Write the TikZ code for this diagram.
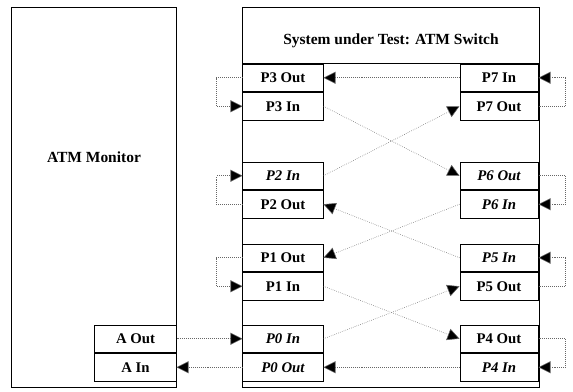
\documentclass[tikz,border=0pt]{standalone}
\usepackage{fontspec}
\setmainfont{Liberation Serif}
\usetikzlibrary{arrows.meta,positioning}

\begin{document}
\begin{tikzpicture}[x=0.025cm,y=-0.025cm,font=\bfseries\fontsize{10.5}{12}\selectfont]

\tikzset{portnode/.style={draw,line width=0.7pt,minimum width=2cm,minimum height=0.6875cm,inner sep=0pt},
rportnode/.style={portnode,minimum width=1.95cm},
blockbox/.style={draw,line width=0.7pt,inner sep=0pt},
titlefont/.style={font=\bfseries\fontsize{11}{13}\selectfont},
linkline/.style={densely dotted,draw=black!60,thin,-{Triangle[length=3mm,width=3mm,fill=black]}}}

\useasboundingbox (0,0) rectangle (573,391);

% Monitor and switch boxes
\node[blockbox,minimum width=4.1cm,minimum height=9.475cm] (monitor) at (94,197.5) {};
\node[titlefont] (monitorTitle) at (94,157) {ATM Monitor};
\node[blockbox,minimum width=7.4cm,minimum height=9.475cm] (switch) at (391,197.5) {};
\node[titlefont] (switchTitle) at (391,41) {System under Test: ATM Switch};

% Monitor ports
\node[portnode,minimum width=2.025cm] (aout) at (135.5,338.75) {A Out};
\node[portnode,minimum width=2.025cm,below=0pt of aout] (ain) {A In};

% Left switch ports
\node[portnode] (p3out) at (283,77.75) {P3 Out};
\node[portnode,below=0pt of p3out] (p3in) {P3 In};
\node[portnode] (p2in) at (283,175.75) {\itshape P2 In};
\node[portnode,below=0pt of p2in] (p2out) {P2 Out};
\node[portnode] (p1out) at (283,257.75) {P1 Out};
\node[portnode,below=0pt of p1out] (p1in) {P1 In};
\node[portnode] (p0in) at (283,338.75) {\itshape P0 In};
\node[portnode,below=0pt of p0in] (p0out) {\itshape P0 Out};

% Right switch ports
\node[rportnode] (p7in) at (499,77.75) {P7 In};
\node[rportnode,below=0pt of p7in] (p7out) {P7 Out};
\node[rportnode] (p6out) at (499,175.75) {\itshape P6 Out};
\node[rportnode,below=0pt of p6out] (p6in) {\itshape P6 In};
\node[rportnode] (p5in) at (499,257.75) {\itshape P5 In};
\node[rportnode,below=0pt of p5in] (p5out) {P5 Out};
\node[rportnode] (p4out) at (499,338.75) {P4 Out};
\node[rportnode,below=0pt of p4out] (p4in) {\itshape P4 In};

% Title rule
\draw[line width=0.7pt] (switch.west |- p3out.north) -- (switch.east |- p3out.north);

% Cross links
\draw[linkline] (p7in.west) -- (p3out.east);
\draw[linkline] (p3in.east) -- (p6out.west);
\draw[linkline] (p2in.east) -- (p7out.west);
\draw[linkline] (p6in.west) -- (p1out.east);
\draw[linkline] (p5in.west) -- (p2out.east);
\draw[linkline] (p1in.east) -- (p4out.west);
\draw[linkline] (p0in.east) -- (p5out.west);
\draw[linkline] (p4in.west) -- (p0out.east);

% Monitor links
\draw[linkline] (aout.east) -- (p0in.west);
\draw[linkline] (p0out.west) -- (ain.east);

% Loopbacks
\draw[linkline] (p3out.west) -- ++(-26,0) |- (p3in.west);
\draw[linkline] (p2out.west) -- ++(-26,0) |- (p2in.west);
\draw[linkline] (p1out.west) -- ++(-26,0) |- (p1in.west);
\draw[linkline] (p7out.east) -- ++(27,0) |- (p7in.east);
\draw[linkline] (p6out.east) -- ++(27,0) |- (p6in.east);
\draw[linkline] (p5out.east) -- ++(27,0) |- (p5in.east);
\draw[linkline] (p4out.east) -- ++(27,0) |- (p4in.east);

\end{tikzpicture}
\end{document}
